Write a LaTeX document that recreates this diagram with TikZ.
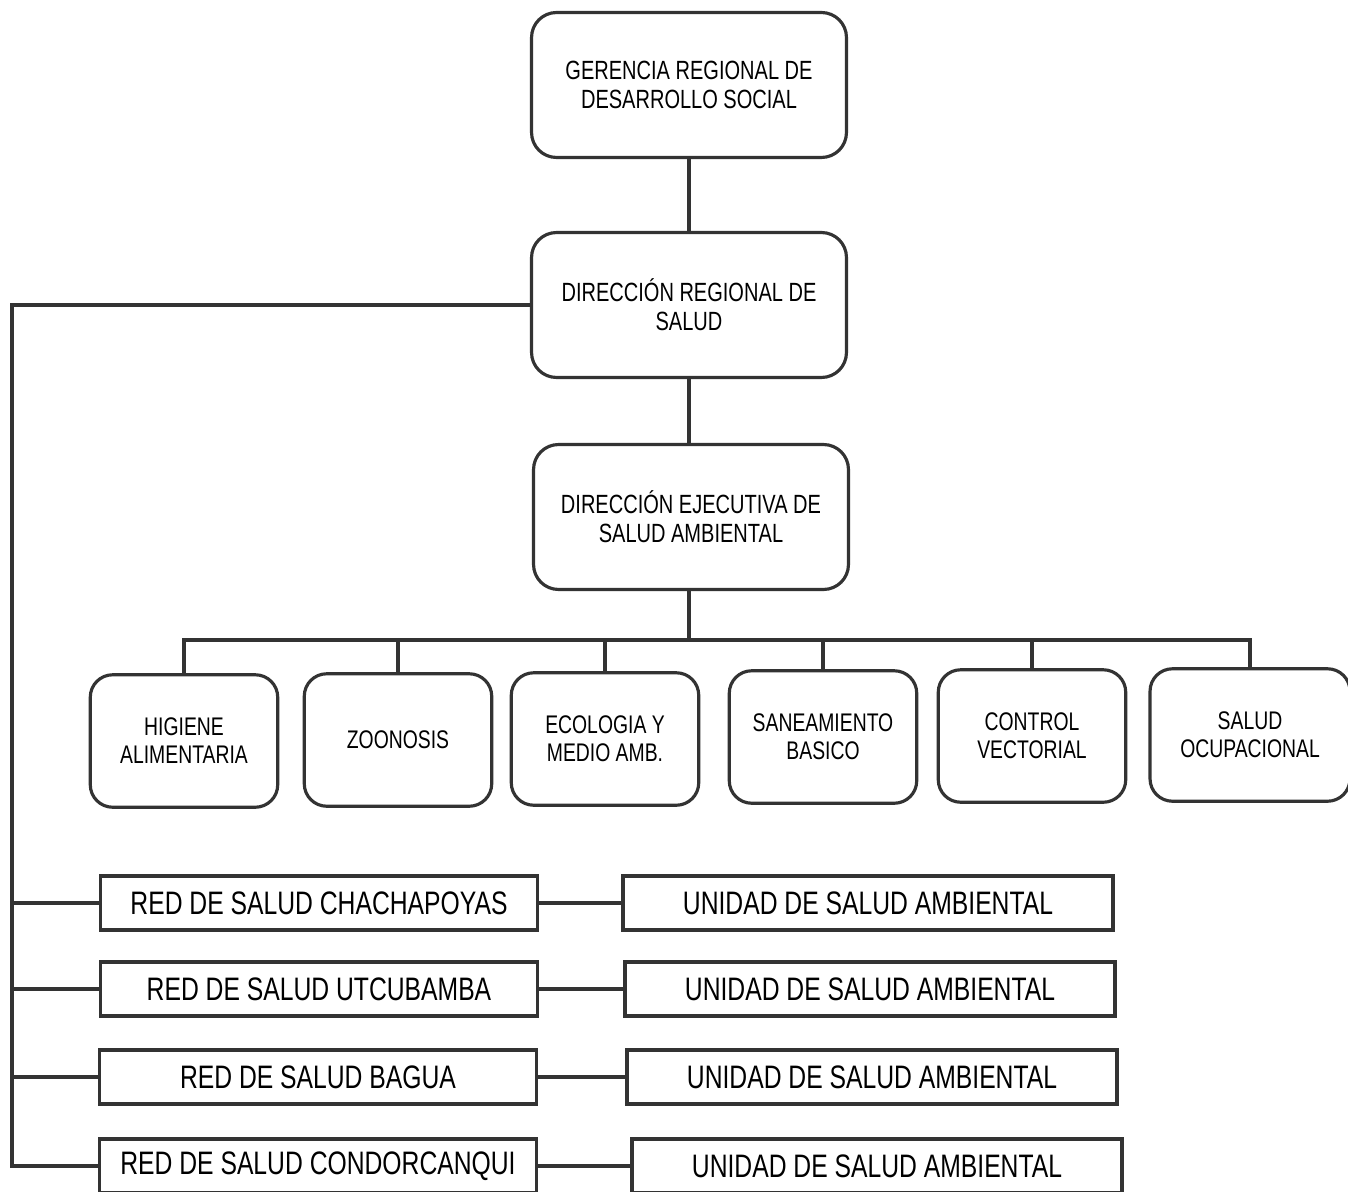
\documentclass[tikz,border=0pt]{standalone}
\usepackage{fontspec}
\setmainfont{Liberation Sans}[FakeStretch=0.76]
\usepackage{tikz}

\tikzset{
  caja/.style={draw=black!80, line width=1.8pt, rounded corners=0.5cm, align=center,
    minimum width=6.3cm, minimum height=2.9cm, font=\fontsize{15}{16.5}\selectfont},
  area/.style={draw=black!80, line width=1.8pt, rounded corners=0.45cm, align=center,
    minimum width=3.75cm, minimum height=2.65cm, font=\fontsize{14.5}{16}\selectfont},
  red/.style={draw=black!80, line width=1.8pt, minimum width=8.75cm, minimum height=1.08cm,
    font=\fontsize{18.5}{20}\selectfont},
  unidad/.style={red, minimum width=9.8cm},
  linea/.style={draw=black!80, line width=2.2pt}
}

\begin{document}
\begin{tikzpicture}[x=0.02cm,y=-0.02cm]
\useasboundingbox (0,0) rectangle (1348,1192);

\node[caja] (ger) at (689,85) {GERENCIA REGIONAL DE\\DESARROLLO SOCIAL};
\node[caja] (dir) at (689,305) {DIRECCIÓN REGIONAL DE\\SALUD};
\node[caja] (eje) at (691,517) {DIRECCIÓN EJECUTIVA DE\\SALUD AMBIENTAL};

\node[area] (hig) at (184,741) {HIGIENE\\ALIMENTARIA};
\node[area] (zoo) at (398,740) {ZOONOSIS};
\node[area] (eco) at (605,739) {ECOLOGIA Y\\MEDIO AMB.};
\node[area] (san) at (823,737) {SANEAMIENTO\\BASICO};
\node[area] (con) at (1032,736) {CONTROL\\VECTORIAL};
\node[area, minimum width=4cm] (ocu) at (1250,735) {SALUD\\OCUPACIONAL};

\node[red] (chacha) at (319,903) {RED DE SALUD CHACHAPOYAS};
\node[red] (utcu) at (319,989) {RED DE SALUD UTCUBAMBA};
\node[red] (bagua) at (318,1077) {RED DE SALUD BAGUA};
\node[red] (condor) at (318,1166) {RED DE SALUD CONDORCANQUI};

\node[unidad] (u1) at (868,903) {UNIDAD DE SALUD AMBIENTAL};
\node[unidad] (u2) at (870,989) {UNIDAD DE SALUD AMBIENTAL};
\node[unidad] (u3) at (872,1077) {UNIDAD DE SALUD AMBIENTAL};
\node[unidad] (u4) at (877,1166) {UNIDAD DE SALUD AMBIENTAL};

\draw[linea] (ger) -- (dir);
\draw[linea] (dir.south) -- (dir.south |- eje.north);

\coordinate (bus) at (689,640);
\draw[linea] (bus |- eje.south) -- (bus);
\draw[linea] (bus) -| (hig.north);
\draw[linea] (bus) -| (zoo.north);
\draw[linea] (bus) -| (eco.north);
\draw[linea] (bus) -| (san.north);
\draw[linea] (bus) -| (con.north);
\draw[linea] (bus) -| (ocu.north);

\coordinate (esq) at (12,305);
\draw[linea] (dir.west) -- (esq) |- (condor.west);
\draw[linea] (chacha.west -| esq) -- (chacha.west);
\draw[linea] (utcu.west -| esq) -- (utcu.west);
\draw[linea] (bagua.west -| esq) -- (bagua.west);

\draw[linea] (chacha) -- (u1);
\draw[linea] (utcu) -- (u2);
\draw[linea] (bagua) -- (u3);
\draw[linea] (condor) -- (u4);
\end{tikzpicture}
\end{document}
